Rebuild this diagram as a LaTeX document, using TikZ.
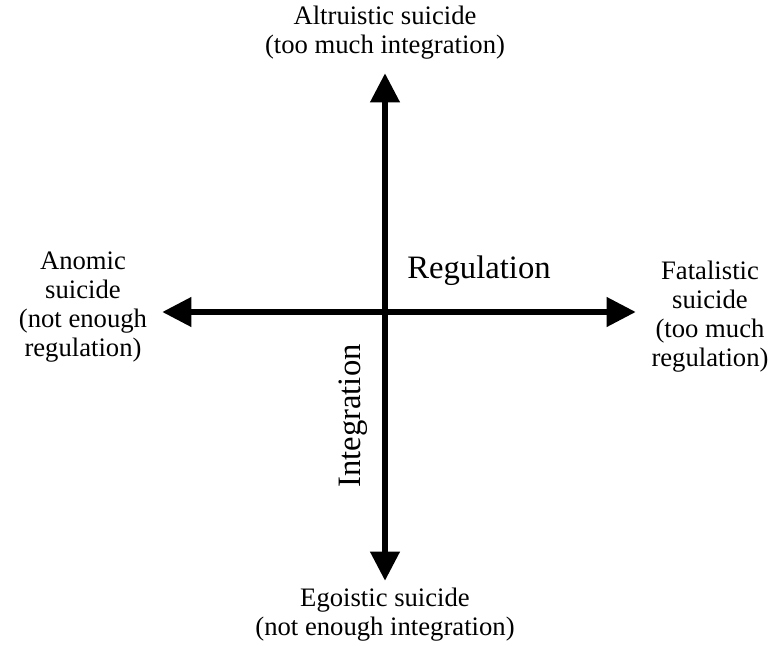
\documentclass[tikz,border=0pt]{standalone}
\usepackage{fontspec}
\setmainfont{Liberation Serif}
\usetikzlibrary{arrows.meta}

\begin{document}
\begin{tikzpicture}[
    x=0.75pt, y=-0.75pt,
    label/.style={align=center, inner sep=0pt, font=\fontsize{20}{21.8}\selectfont},
    axislabel/.style={inner sep=0pt, font=\fontsize{24.5}{26}\selectfont},
    axis/.style={{Triangle[length=22pt, width=21pt]}-{Triangle[length=22pt, width=21pt]},
                 line width=5.2pt},
]
\useasboundingbox (0,0) rectangle (773,645);

% Arrow ends
\coordinate (top)    at (385, 73);
\coordinate (bottom) at (385, 581);
\coordinate (left)   at (162, 312);
\coordinate (right)  at (636, 312);

% Axes
\draw[axis] (bottom) -- (top);
\draw[axis] (left) -- (right);

% Types of suicide
\node[label] (altru)  at (385, 33)  {Altruistic suicide\\(too much integration)};
\node[label] (ego)    at (385, 615) {Egoistic suicide\\(not enough integration)};
\node[label] (anomic) at (83, 307)  {Anomic\\suicide\\(not enough\\regulation)};
\node[label] (fatal)  at (710, 317) {Fatalistic\\suicide\\(too much\\regulation)};

% Axis names
\node[axislabel] (reg) at (479, 271) {Regulation};
\node[axislabel, rotate=90] (integ) at (353, 416) {Integration};

\end{tikzpicture}
\end{document}
